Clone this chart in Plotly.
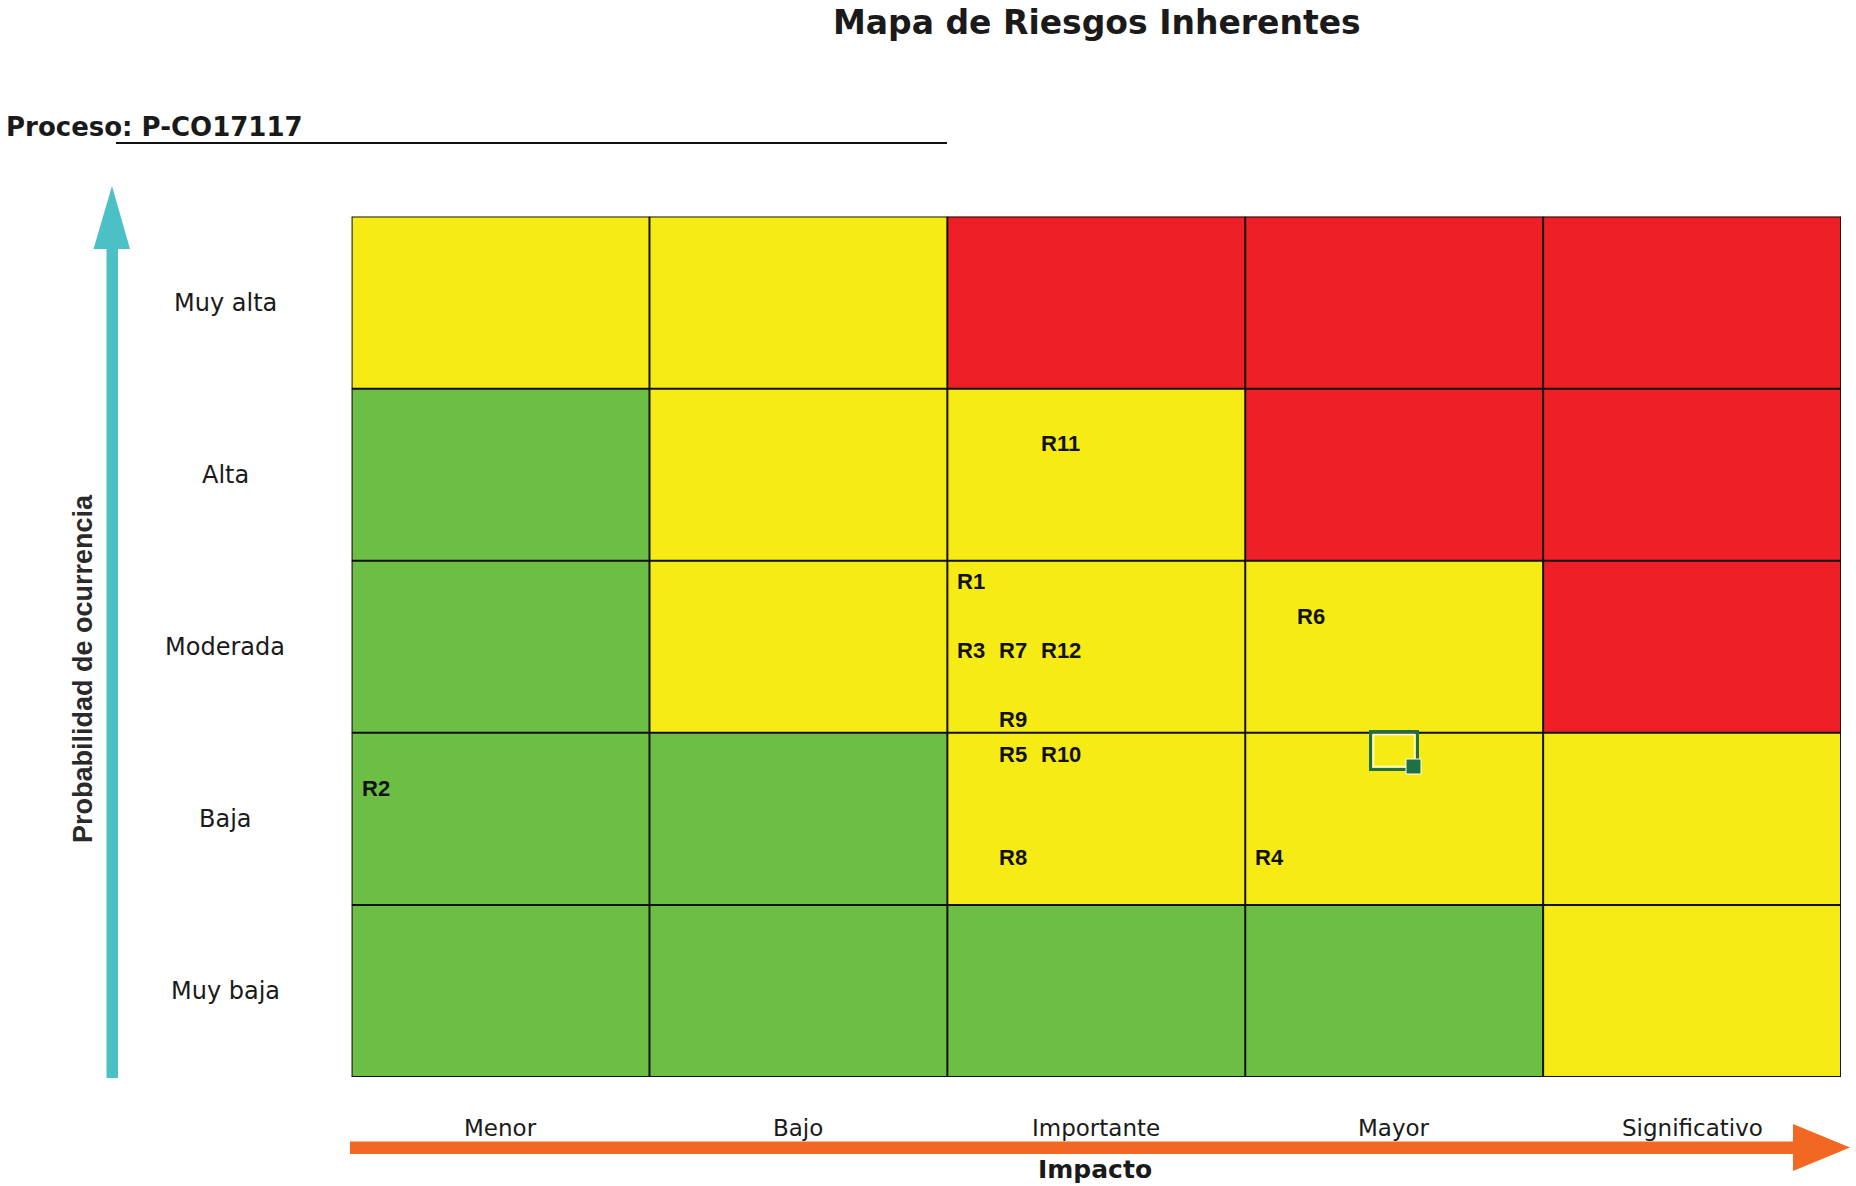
import plotly.graph_objects as go

# ---------------- data ----------------
impact_levels = ["Menor", "Bajo", "Importante", "Mayor", "Significativo"]
prob_levels = ["Muy baja", "Baja", "Moderada", "Alta", "Muy alta"]  # bottom -> top

# risk level per cell: 0 = green, 1 = yellow, 2 = red; rows bottom -> top
risk_matrix = [
    [0, 0, 0, 0, 1],  # Muy baja
    [0, 0, 1, 1, 1],  # Baja
    [0, 1, 1, 1, 2],  # Moderada
    [0, 1, 1, 2, 2],  # Alta
    [1, 1, 2, 2, 2],  # Muy alta
]

risk_ids = ["R1", "R3", "R7", "R12", "R9", "R5", "R10", "R8", "R11", "R6", "R4", "R2"]
risk_x = [2.03, 2.03, 2.17, 2.31, 2.17, 2.17, 2.31, 2.17, 2.31, 3.17, 3.03, 0.03]
risk_y = [2.88, 2.48, 2.48, 2.48, 2.08, 1.877, 1.877, 1.278, 3.684, 2.679, 1.278, 1.679]

title_text = "Mapa de Riesgos Inherentes"
process_text = "Proceso: P-CO17117"
y_title = "Probabilidad de ocurrencia"
x_title = "Impacto"

# ---------------- style ----------------
W, H = 1856, 1186
GREEN, YELLOW, RED = "#6CBE45", "#F6EB14", "#EE1F26"
TEAL, ORANGE = "#4BC1C5", "#F26722"
GX0, GX1, GY0, GY1 = 351.6, 1841.0, 216.6, 1077.0  # grid pixel box

def px(x):
    return x / W

def py(y):
    return 1 - y / H

def col_px(v):  # data x -> pixel x
    return GX0 + v * (GX1 - GX0) / len(impact_levels)

def row_px(v):  # data y -> pixel y
    return GY1 - v * (GY1 - GY0) / len(prob_levels)

fig = go.Figure()

fig.add_trace(go.Heatmap(
    z=risk_matrix,
    x=[i + 0.5 for i in range(len(impact_levels))],
    y=[j + 0.5 for j in range(len(prob_levels))],
    zmin=0, zmax=2,
    colorscale=[[0, GREEN], [0.3333, GREEN], [0.3334, YELLOW], [0.6666, YELLOW],
                [0.6667, RED], [1, RED]],
    showscale=False, hoverinfo="skip",
))

shapes = []
for i in range(len(impact_levels) + 1):
    shapes.append(dict(type="line", xref="x", yref="y", x0=i, x1=i, y0=0, y1=len(prob_levels),
                       line=dict(color="#111111", width=2), layer="above"))
for j in range(len(prob_levels) + 1):
    shapes.append(dict(type="line", xref="x", yref="y", y0=j, y1=j, x0=0, x1=len(impact_levels),
                       line=dict(color="#111111", width=2), layer="above"))

# underline of process
shapes.append(dict(type="line", xref="paper", yref="paper", x0=px(116), x1=px(947), y0=py(143), y1=py(143),
                   line=dict(color="#111111", width=2)))

# vertical teal arrow
teal_path = ("M {a} {b} L {c} {b} L {c} {d} L {e} {d} L {f} {g} L {h} {d} L {i} {d} L {i} {b} Z").format(
    a=px(106.5), b=py(1078), c=px(118), d=py(249), e=px(130), f=px(112), g=py(186), h=px(93.5), i=px(106.5))
shapes.append(dict(type="path", xref="paper", yref="paper", path=teal_path,
                   fillcolor=TEAL, line=dict(width=0)))

# horizontal orange arrow
orange_path = ("M {a} {b} L {c} {b} L {c} {d} L {e} {f} L {c} {g} L {c} {h} L {a} {h} Z").format(
    a=px(350), b=py(1141.5), c=px(1793), d=py(1124), e=px(1850), f=py(1147.5), g=py(1171), h=py(1154))
shapes.append(dict(type="path", xref="paper", yref="paper", path=orange_path,
                   fillcolor=ORANGE, line=dict(width=0)))

# spreadsheet selection cursor
shapes.append(dict(type="rect", xref="paper", yref="paper", x0=px(1370.5), x1=px(1417.5), y0=py(731.5), y1=py(769.5),
                   line=dict(color="#1E7145", width=3)))
shapes.append(dict(type="rect", xref="paper", yref="paper", x0=px(1373.5), x1=px(1414.5), y0=py(734.5), y1=py(766.5),
                   line=dict(color="#FFFFFF", width=1.5)))
shapes.append(dict(type="rect", xref="paper", yref="paper", x0=px(1406), x1=px(1421), y0=py(759), y1=py(774),
                   fillcolor="#1E7145", line=dict(color="#FFFFFF", width=1)))

annotations = []
annotations.append(dict(text="<b>%s</b>" % title_text, xref="paper", yref="paper", x=px(1097), y=py(22),
                        xanchor="center", yanchor="middle", showarrow=False,
                        font=dict(family="DejaVu Sans", size=33, color="#1a1a1a")))
annotations.append(dict(text="<b>%s</b>" % process_text, xref="paper", yref="paper", x=px(4), y=py(127),
                        xanchor="left", yanchor="middle", showarrow=False,
                        font=dict(family="DejaVu Sans", size=26, color="#1a1a1a")))
annotations.append(dict(text="<b>%s</b>" % y_title, xref="paper", yref="paper", x=px(83), y=py(669),
                        xanchor="center", yanchor="middle", showarrow=False, textangle=-90,
                        font=dict(family="Liberation Sans", size=27, color="#2a2a2a")))
annotations.append(dict(text="<b>%s</b>" % x_title, xref="paper", yref="paper", x=px(1095), y=py(1169),
                        xanchor="center", yanchor="middle", showarrow=False,
                        font=dict(family="DejaVu Sans", size=25, color="#1a1a1a")))
# row labels
for j, lab in enumerate(prob_levels):
    annotations.append(dict(text=lab, xref="paper", yref="paper", x=px(225), y=py(row_px(j + 0.5)),
                            xanchor="center", yanchor="middle", showarrow=False,
                            font=dict(family="DejaVu Sans", size=24, color="#1a1a1a")))
# column labels
for i, lab in enumerate(impact_levels):
    annotations.append(dict(text=lab, xref="paper", yref="paper", x=px(col_px(i + 0.5)), y=py(1128),
                            xanchor="center", yanchor="middle", showarrow=False,
                            font=dict(family="DejaVu Sans", size=23, color="#1a1a1a")))
# risk labels
for rid, rx, ry in zip(risk_ids, risk_x, risk_y):
    annotations.append(dict(text="<b>%s</b>" % rid, xref="x", yref="y", x=rx, y=ry,
                            xanchor="left", yanchor="middle", showarrow=False, borderpad=0,
                            font=dict(family="Liberation Sans", size=22, color="#111111")))

fig.update_layout(
    width=W, height=H, autosize=False,
    margin=dict(l=0, r=0, t=0, b=0),
    paper_bgcolor="white", plot_bgcolor="white",
    xaxis=dict(domain=[px(GX0), px(GX1)], range=[0, 5], visible=False, fixedrange=True),
    yaxis=dict(domain=[py(GY1), py(GY0)], range=[0, 5], visible=False, fixedrange=True),
    shapes=shapes, annotations=annotations, showlegend=False,
)

fig.write_html("out.html")
